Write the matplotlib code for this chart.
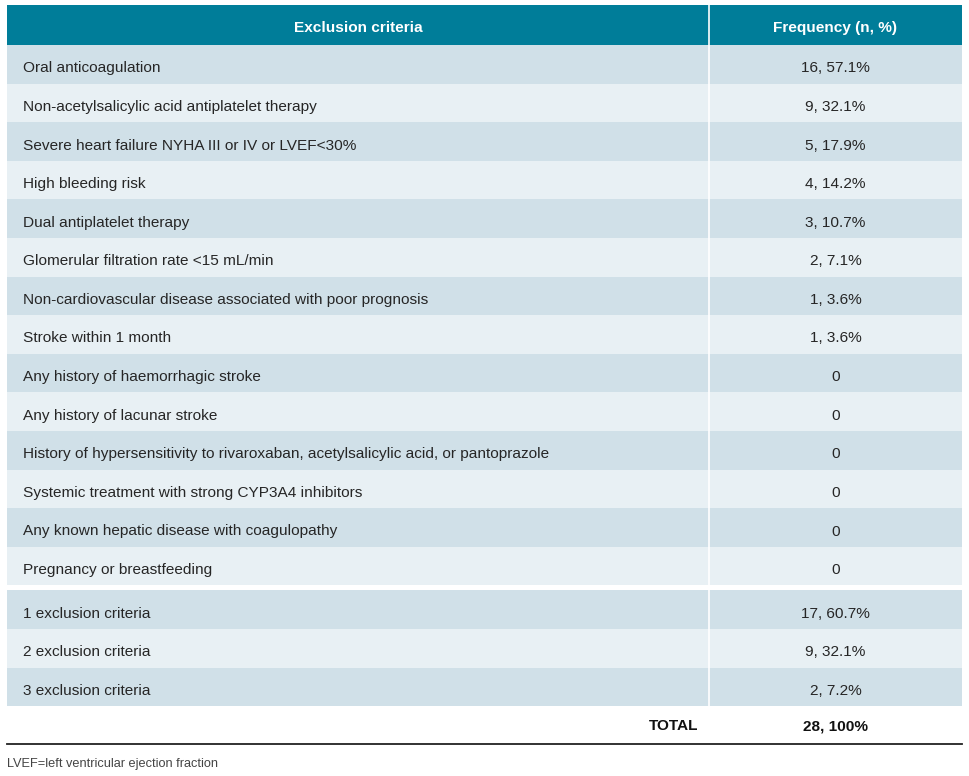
import matplotlib.pyplot as plt
from matplotlib.patches import Rectangle

# table content
criteria = [
    "Oral anticoagulation",
    "Non-acetylsalicylic acid antiplatelet therapy",
    "Severe heart failure NYHA III or IV or LVEF<30%",
    "High bleeding risk",
    "Dual antiplatelet therapy",
    "Glomerular filtration rate <15 mL/min",
    "Non-cardiovascular disease associated with poor prognosis",
    "Stroke within 1 month",
    "Any history of haemorrhagic stroke",
    "Any history of lacunar stroke",
    "History of hypersensitivity to rivaroxaban, acetylsalicylic acid, or pantoprazole",
    "Systemic treatment with strong CYP3A4 inhibitors",
    "Any known hepatic disease with coagulopathy",
    "Pregnancy or breastfeeding",
]
criteria_freq = ["16, 57.1%", "9, 32.1%", "5, 17.9%", "4, 14.2%", "3, 10.7%",
                 "2, 7.1%", "1, 3.6%", "1, 3.6%", "0", "0", "0", "0", "0", "0"]

counts = ["1 exclusion criteria", "2 exclusion criteria", "3 exclusion criteria"]
counts_freq = ["17, 60.7%", "9, 32.1%", "2, 7.2%"]

total_label = "TOTAL"
total_value = "28, 100%"
header = ["Exclusion criteria", "Frequency (n, %)"]
footnote = "LVEF=left ventricular ejection fraction"

plt.rcParams['font.family'] = ['Liberation Sans', 'DejaVu Sans']

W, H = 969, 776
fig = plt.figure(figsize=(W / 100, H / 100), dpi=100)
ax = fig.add_axes([0, 0, 1, 1])
ax.set_xlim(0, W)
ax.set_ylim(H, 0)
ax.axis('off')

left, right, split = 7, 962, 709
head_top, head_bot = 5, 45
row_h = 38.6
teal = '#007d99'
dark = '#d0e0e8'
light = '#e8f0f4'
txt = '#262626'
fs = 11.1
dy = 3  # small downward nudge so text sits like the original

ax.add_patch(Rectangle((left, head_top), right - left, head_bot - head_top,
                       color=teal, lw=0))
ax.text((left + split) / 2, (head_top + head_bot) / 2 + dy, header[0], color='white',
        fontsize=fs, fontweight='bold', ha='center', va='center')
ax.text((split + right) / 2, (head_top + head_bot) / 2 + dy, header[1], color='white',
        fontsize=fs, fontweight='bold', ha='center', va='center')


def draw_rows(labels, values, y0):
    for i, (lab, val) in enumerate(zip(labels, values)):
        y = y0 + i * row_h
        ax.add_patch(Rectangle((left, y), right - left, row_h,
                               color=dark if i % 2 == 0 else light, lw=0))
        ax.text(23, y + row_h / 2 + dy + 1, lab, color=txt, fontsize=fs, va='center')
        ax.text((split + right) / 2, y + row_h / 2 + dy + 1, val, color=txt,
                fontsize=fs, ha='center', va='center')
    return y0 + len(labels) * row_h


end1 = draw_rows(criteria, criteria_freq, head_bot)
start2 = end1 + 5
end2 = draw_rows(counts, counts_freq, start2)

# column divider
ax.plot([split, split], [head_top, end2], color='white', lw=1.2)

# total row
ty = end2 + 20
ax.text(698, ty, total_label, color='#111111', fontsize=fs, fontweight='bold',
        ha='right', va='center')
ax.text((split + right) / 2, ty, total_value, color='#111111', fontsize=fs,
        fontweight='bold', ha='center', va='center')
ax.plot([left, right], [744, 744], color='#222222', lw=1.3)

ax.text(left, 764, footnote, color='#444444', fontsize=9.2, va='center')

fig.savefig('out.png', dpi=100)
